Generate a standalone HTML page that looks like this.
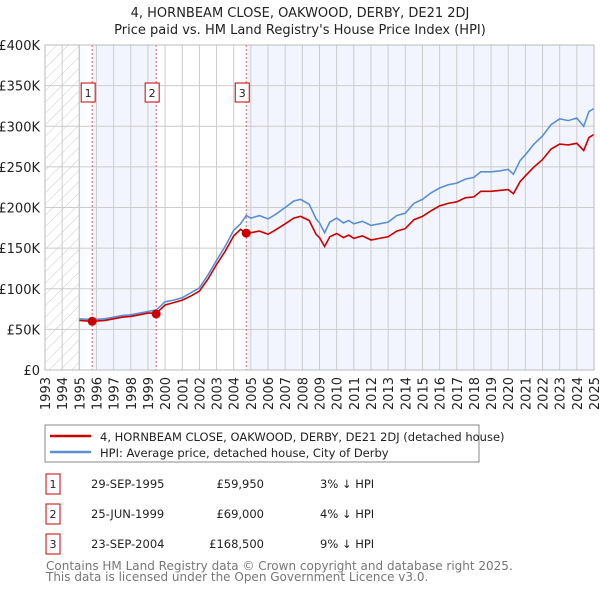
<!DOCTYPE html>
<html><head><meta charset="utf-8"><style>
body{margin:0;background:#fff;font-family:"Liberation Sans","DejaVu Sans",sans-serif;}
svg text{font-family:"DejaVu Sans","Liberation Sans",sans-serif;}
</style></head><body>
<svg id="chart" width="600" height="590" xmlns="http://www.w3.org/2000/svg">
<defs><pattern id="hatch" width="8" height="8" patternUnits="userSpaceOnUse" patternTransform="rotate(45)"><line x1="0" y1="0" x2="0" y2="8" stroke="#ccc" stroke-width="1"/></pattern></defs>
<text x="300" y="17" text-anchor="middle" font-size="13" fill="#222">4, HORNBEAM CLOSE, OAKWOOD, DERBY, DE21 2DJ</text>
<text x="300" y="34" text-anchor="middle" font-size="13" fill="#222">Price paid vs. HM Land Registry's House Price Index (HPI)</text>
<g id="bands"></g><g id="grid"></g><g id="series"></g><g id="marks"></g>
<rect x="45" y="45" width="549" height="325" fill="none" stroke="#bbb"/>
<rect x="45" y="425" width="434" height="37" fill="#fff" stroke="#888"/>
<line x1="50" y1="436" x2="91" y2="436" stroke="#cc0000" stroke-width="2.5"/>
<text x="100" y="441" font-size="11.5" fill="#222">4, HORNBEAM CLOSE, OAKWOOD, DERBY, DE21 2DJ (detached house)</text>
<line x1="50" y1="452" x2="91" y2="452" stroke="#5b8fd4" stroke-width="2.5"/>
<text x="100" y="457" font-size="11.5" fill="#222">HPI: Average price, detached house, City of Derby</text>
<g id="table"></g>
<text x="46" y="570" font-size="12" fill="#777">Contains HM Land Registry data © Crown copyright and database right 2025.</text>
<text x="46" y="581" font-size="12" fill="#777">This data is licensed under the Open Government Licence v3.0.</text>
</svg>
<script>
const years=[1995,1995.75,1996.5,1997,1997.5,1998,1998.5,1999,1999.5,2000,2000.5,2001,2001.5,2002,2002.5,2003,2003.5,2004,2004.4,2004.73,2005,2005.5,2006,2006.4,2007,2007.5,2007.9,2008.4,2008.8,2009,2009.3,2009.6,2010,2010.4,2010.7,2011,2011.5,2012,2012.5,2013,2013.5,2014,2014.5,2015,2015.5,2016,2016.5,2017,2017.5,2018,2018.4,2019,2019.5,2020,2020.3,2020.7,2021,2021.5,2022,2022.5,2023,2023.5,2024,2024.4,2024.7,2025];
const hpi=[63,62,63,65,67,68,70,72,74,84,86,89,95,101,117,135,152,172,180,190,187,190,186,191,200,208,210,204,186,181,169,182,187,181,184,180,183,178,180,182,190,193,205,210,218,224,228,230,235,237,244,244,245,247,241,258,265,278,288,302,309,307,310,300,318,322];
const price=[61,60,61,63,65,66,68,70,70,80,83,86,91,97,112,130,146,165,173,168.5,169,171,167,172,180,187,189,184,167,163,152,164,168,163,166,162,165,160,162,164,171,174,185,189,196,202,205,207,212,213,220,220,221,222,217,232,239,250,259,272,278,277,279,270,286,290];
const saleYears=[1995.75,1999.48,2004.73];
const saleValues=[59.95,69,168.5];
const saleDates=["29-SEP-1995","25-JUN-1999","23-SEP-2004"];
const salePrices=["£59,950","£69,000","£168,500"];
const saleDiffs=["3% ↓ HPI","4% ↓ HPI","9% ↓ HPI"];
const yTicks=[0,50,100,150,200,250,300,350,400];
const yTickLabels=["£0","£50K","£100K","£150K","£200K","£250K","£300K","£350K","£400K"];
const xStart=1993,xEnd=2025;
const NS="http://www.w3.org/2000/svg";
const X=y=>45+(y-xStart)*(549/(xEnd-xStart));
const Y=v=>370-v*325/400;
function mk(tag,attrs,parent,txt){const e=document.createElementNS(NS,tag);for(const k in attrs)e.setAttribute(k,attrs[k]);if(txt!==undefined)e.textContent=txt;document.getElementById(parent).appendChild(e);return e;}
let b=mk('rect',{x:X(1993),y:45,width:X(1995)-X(1993),height:325,fill:'url(#hatch)'},'bands');


b=mk('rect',{x:X(saleYears[0]),y:45,width:X(saleYears[1])-X(saleYears[0]),height:325,fill:'#f2f5fd'},'bands');


b=mk('rect',{x:X(saleYears[2]),y:45,width:X(xEnd)-X(saleYears[2]),height:325,fill:'#f2f5fd'},'bands');


mk('line',{x1:X(1995),y1:45,x2:X(1995),y2:370,stroke:'#999'},'bands');
yTicks.forEach((t,i)=>{
 const l=mk('line',{x1:45,y1:Y(t),x2:594,y2:Y(t),stroke:'#ccc'},'grid');
 
 
 const tx=mk('text',{x:40,y:Y(t)+5,'text-anchor':'end','font-size':13,fill:'#222'},'grid',yTickLabels[i]);
 
 
});
for(let yr=xStart;yr<=xEnd;yr++){
 const l=mk('line',{x1:X(yr),y1:45,x2:X(yr),y2:370,stroke:'#ccc'},'grid');
 
 
 const tx=mk('text',{x:0,y:0,'font-size':13,fill:'#222','text-anchor':'end',transform:`translate(${X(yr)+5},377) rotate(-90)`},'grid',String(yr));
 
 
}
const pts=a=>years.map((y,i)=>X(y).toFixed(1)+','+Y(a[i]).toFixed(1)).join(' ');
let p=mk('polyline',{points:pts(hpi),fill:'none',stroke:'#5b8fd4','stroke-width':1.6},'series');


p=mk('polyline',{points:pts(price),fill:'none',stroke:'#cc0000','stroke-width':1.6},'series');


saleYears.forEach((sy,i)=>{
 const l=mk('line',{x1:X(sy),y1:45,x2:X(sy),y2:370,stroke:'#e06060','stroke-dasharray':'2,2'},'marks');
 
 
 const c=mk('circle',{cx:X(sy),cy:Y(saleValues[i]),r:4.5,fill:'#cc0000'},'marks');
 
 
 const r=mk('rect',{x:X(sy)-11,y:83,width:14,height:19,fill:'#fff',stroke:'#cc0000'},'marks');
 
 
 const t=mk('text',{x:X(sy)-4,y:97,'text-anchor':'middle','font-size':11,fill:'#222'},'marks',String(i+1));
 
 
 const ry=[483,513,543][i];
 const tb=mk('rect',{x:46,y:ry-9,width:14,height:20,fill:'#fff',stroke:'#cc0000'},'table');
 
 
 const tn=mk('text',{x:53,y:ry+5,'text-anchor':'middle','font-size':11,fill:'#222'},'table',String(i+1));
 
 
 const td=mk('text',{x:91,y:ry+5,'font-size':11.5,fill:'#222'},'table',saleDates[i]);
 
 
 const tp=mk('text',{x:264,y:ry+5,'text-anchor':'end','font-size':11.5,fill:'#222'},'table',salePrices[i]);
 
 
 const th=mk('text',{x:320,y:ry+5,'font-size':11.5,fill:'#222'},'table',saleDiffs[i]);
 
 
});
</script>
</body></html>
